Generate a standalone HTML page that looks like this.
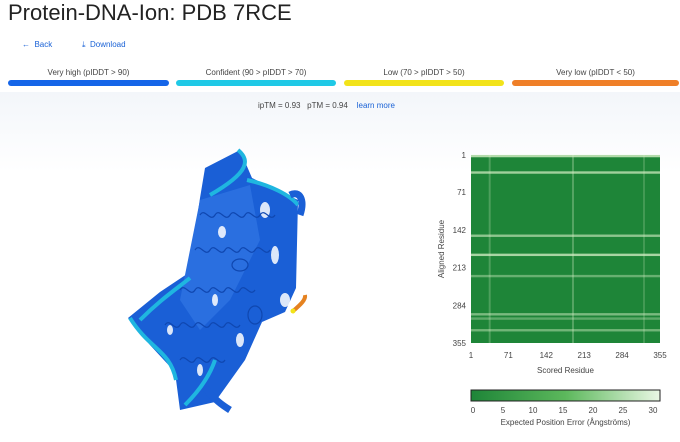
<!DOCTYPE html>
<html><head><meta charset="utf-8"><style>
body{margin:0;width:680px;height:442px;overflow:hidden;font-family:"Liberation Sans",sans-serif;background:#fff;position:relative}
.a{position:absolute}
.lab{position:absolute;top:68px;font-size:8px;color:#444;text-align:center}
.bar{position:absolute;top:80px;height:6px;border-radius:3px}
</style></head><body>
<div class="a" style="left:0;top:92px;width:680px;height:350px;background:linear-gradient(#f3f6fa,#fff 80px)"></div>
<div class="a" style="left:8px;top:0;font-size:22px;color:#222">Protein-DNA-Ion: PDB 7RCE</div>
<div class="a" style="left:22px;top:40px;font-size:8px;color:#1a62d6">← &nbsp;Back</div>
<div class="a" style="left:82px;top:40px;font-size:8px;color:#1a62d6">⤓ &nbsp;Download</div>
<div class="lab" style="left:8px;width:161px">Very high (pIDDT &gt; 90)</div>
<div class="lab" style="left:176px;width:160px">Confident (90 &gt; pIDDT &gt; 70)</div>
<div class="lab" style="left:344px;width:160px">Low (70 &gt; pIDDT &gt; 50)</div>
<div class="lab" style="left:512px;width:167px">Very low (pIDDT &lt; 50)</div>
<div class="bar" style="left:8px;width:161px;background:#1565e8"></div>
<div class="bar" style="left:176px;width:160px;background:#1fc9e6"></div>
<div class="bar" style="left:344px;width:160px;background:#f2e31a"></div>
<div class="bar" style="left:512px;width:167px;background:#ef7f28"></div>
<div class="a" style="left:258px;top:101px;font-size:8px;color:#444">ipTM = 0.93 &nbsp; pTM = 0.94 &nbsp;&nbsp; <span style="color:#1a62d6">learn more</span></div>

<svg class="a" style="left:0;top:0" width="440" height="442">
<polygon points="205,168 240,150 252,178 298,200 296,288 285,312 262,322 245,360 215,402 180,410 175,372 150,345 128,318 160,292 190,272 195,232 200,198" fill="#1a5fd6"/>
<polygon points="200,200 250,185 260,240 230,300 200,330 180,300" fill="#2a6fe0"/>
<g fill="#fff" fill-opacity="0.85">
<ellipse cx="265" cy="210" rx="5" ry="8"/><ellipse cx="222" cy="232" rx="4" ry="6"/><ellipse cx="275" cy="255" rx="4" ry="9"/>
<ellipse cx="215" cy="300" rx="3" ry="6"/><ellipse cx="240" cy="340" rx="4" ry="7"/><ellipse cx="170" cy="330" rx="3" ry="5"/>
<ellipse cx="285" cy="300" rx="5" ry="7"/><ellipse cx="200" cy="370" rx="3" ry="6"/>
</g>
<g stroke="#0f47b0" stroke-width="1.2" fill="none">
<path d="M200,215 c5,-8 10,8 15,0 c5,-8 10,8 15,0 c5,-8 10,8 15,0 c5,-8 10,8 15,0 c5,-8 10,8 15,0"/>
<path d="M195,250 c5,-8 10,8 15,0 c5,-8 10,8 15,0 c5,-8 10,8 15,0 c5,-8 10,8 15,0 c5,-8 10,8 15,0"/>
<path d="M180,290 c5,-8 10,8 15,0 c5,-8 10,8 15,0 c5,-8 10,8 15,0 c5,-8 10,8 15,0 c5,-8 10,8 15,0"/>
<path d="M165,325 c5,-8 10,8 15,0 c5,-8 10,8 15,0 c5,-8 10,8 15,0 c5,-8 10,8 15,0 c5,-8 10,8 15,0"/>
<path d="M180,360 c5,-8 10,8 15,0 c5,-8 10,8 15,0 c5,-8 10,8 15,0"/>
<ellipse cx="240" cy="265" rx="8" ry="6"/><ellipse cx="255" cy="315" rx="7" ry="9"/>
</g>
<path d="M238,150 C250,160 250,172 210,195 M247,180 C270,185 290,195 298,205 M140,320 C160,300 175,290 190,278 M185,405 C200,390 210,375 215,360 M176,380 C170,350 150,350 130,318" stroke="#1fb6e0" stroke-width="4" fill="none"/>
<path d="M205,388 C215,400 222,405 230,410 M290,195 C300,190 305,200 300,215" stroke="#1a5fd6" stroke-width="7" fill="none"/>
<path d="M292,312 C300,305 306,300 305,295" stroke="#e58220" stroke-width="4" fill="none"/>
<circle cx="293" cy="311" r="2.5" fill="#f2e31a"/>
</svg>

<svg class="a" style="left:0;top:0" width="680" height="442" id="hm"></svg>
<script>
const residueTicks=[1,71,142,213,284,355];
const brightRows=[[3,0.8],[34,0.7],[153,0.6],[189,0.75],[229,0.4],[301,0.5],[309,0.35],[331,0.45]];
const brightCols=[[36,0.25],[192,0.3],[325,0.2]];
const cbTicks=[0,5,10,15,20,25,30];
const N=355,X0=471,Y0=155,W=189,H=188;
const sx=r=>X0+(r-1)/(N-1)*W, sy=r=>Y0+(r-1)/(N-1)*H;
const NS="http://www.w3.org/2000/svg",svg=document.getElementById('hm');
function mk(t,a){const e=document.createElementNS(NS,t);for(const k in a)e.setAttribute(k,a[k]);svg.appendChild(e);return e;}
let bg=mk('rect',{x:X0,y:Y0,width:W,height:H,fill:'#1e8538'});


brightRows.forEach(([r,v])=>{const e=mk('rect',{x:X0,y:sy(r)-1.2,width:W,height:2.4,fill:'#d8f0c8','fill-opacity':v});

});
brightCols.forEach(([r,v])=>{const e=mk('rect',{x:sx(r)-1,y:Y0,width:2,height:H,fill:'#d8f0c8','fill-opacity':v});

});
residueTicks.forEach(t=>{
 let a=mk('text',{x:sx(t),y:358,'font-size':8,fill:'#444','text-anchor':'middle'});a.textContent=t;
 
 
 let b=mk('text',{x:466,y:sy(t)+3,'font-size':8,fill:'#444','text-anchor':'end'});b.textContent=t;
 
 });
let xt=mk('text',{x:X0+W/2,y:373,'font-size':8,fill:'#444','text-anchor':'middle'});xt.textContent='Scored Residue';


let yt=mk('text',{x:0,y:0,'font-size':8,fill:'#444','text-anchor':'middle',transform:`translate(444,${Y0+H/2}) rotate(-90)`});yt.textContent='Aligned Residue';


const defs=mk('defs',{});const g=document.createElementNS(NS,'linearGradient');g.id='cg';
[['0','#1e8538'],['0.5','#5cb85c'],['1','#eaf7e4']].forEach(([o,c])=>{const s=document.createElementNS(NS,'stop');s.setAttribute('offset',o);s.setAttribute('stop-color',c);g.appendChild(s);});defs.appendChild(g);
let cb=mk('rect',{x:X0,y:390,width:W,height:11,fill:'url(#cg)',stroke:'#222','stroke-width':1});


cbTicks.forEach(t=>{let e=mk('text',{x:X0+2+t/31.5*W,y:413,'font-size':8,fill:'#444','text-anchor':'middle'});e.textContent=t;

});
let ct=mk('text',{x:X0+W/2,y:425,'font-size':8,fill:'#444','text-anchor':'middle'});ct.textContent='Expected Position Error (Ångströms)';


</script>
</body></html>
